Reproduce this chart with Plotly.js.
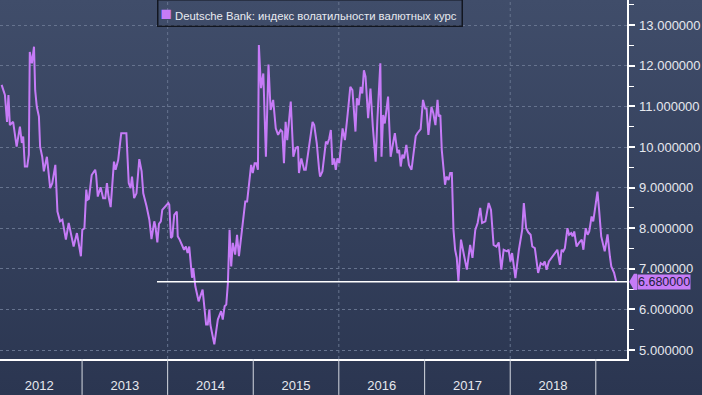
<!DOCTYPE html>
<html>
<head>
<meta charset="utf-8">
<script src="https://cdn.plot.ly/plotly-3.0.1.min.js"></script>
<style>
  html, body { margin: 0; padding: 0; }
  body { width: 702px; height: 395px; overflow: hidden;
         background: linear-gradient(to bottom, #404d6a 0%, #34405c 55%, #2b3651 100%); }
  #chart { width: 702px; height: 395px; }
</style>
</head>
<body>
<div id="chart"></div>
<script>
const seriesName = 'Deutsche Bank: индекс волатильности валютных курс';

const dates = [
 '2012-01-24','2012-02-07','2012-02-16','2012-02-22','2012-02-28','2012-03-13','2012-03-28','2012-04-11','2012-04-19','2012-04-25',
 '2012-05-02','2012-05-12','2012-05-19','2012-05-23','2012-06-01','2012-06-10','2012-06-15','2012-06-22','2012-07-01','2012-07-06',
 '2012-07-15','2012-07-22','2012-08-04','2012-08-18','2012-08-27','2012-09-09','2012-09-18','2012-09-29','2012-10-09','2012-10-24',
 '2012-11-05','2012-11-12','2012-11-26','2012-12-10','2012-12-27','2013-01-02','2013-01-11','2013-01-19','2013-01-24','2013-01-30',
 '2013-02-11','2013-02-26','2013-03-02','2013-03-09','2013-03-21','2013-04-01','2013-04-10','2013-04-17','2013-04-24','2013-05-03',
 '2013-05-17','2013-05-24','2013-06-04','2013-06-17','2013-07-09','2013-07-19','2013-07-27','2013-08-02','2013-08-11','2013-08-21',
 '2013-09-02','2013-09-12','2013-09-19','2013-10-03','2013-10-15','2013-10-24','2013-11-05','2013-11-10','2013-11-18','2013-11-25',
 '2013-12-03','2013-12-09','2013-12-23','2014-01-04','2014-01-08','2014-01-15','2014-01-21','2014-01-29','2014-02-09','2014-02-13',
 '2014-02-21','2014-03-12','2014-03-20','2014-03-27','2014-04-03','2014-04-15','2014-04-20','2014-04-29','2014-05-13','2014-05-30',
 '2014-06-14','2014-06-21','2014-06-28','2014-07-02','2014-07-19','2014-08-03','2014-08-17','2014-08-24','2014-09-01','2014-09-08',
 '2014-09-15','2014-09-22','2014-09-29','2014-10-06','2014-10-16','2014-10-24','2014-11-01','2014-11-11','2014-11-18','2014-11-28',
 '2014-12-06','2014-12-16','2014-12-23','2014-12-30','2015-01-07','2015-01-14','2015-01-21','2015-01-25','2015-02-03','2015-02-13',
 '2015-02-24','2015-03-07','2015-03-16','2015-03-27','2015-04-07','2015-04-17','2015-04-28','2015-05-05','2015-05-12','2015-05-19',
 '2015-05-26','2015-06-10','2015-06-21','2015-07-01','2015-07-11','2015-07-15','2015-07-25','2015-08-06','2015-08-13','2015-08-27',
 '2015-09-11','2015-09-18','2015-09-29','2015-10-09','2015-10-13','2015-10-23','2015-11-07','2015-11-14','2015-11-21','2015-11-28',
 '2015-12-05','2015-12-12','2015-12-19','2015-12-26','2016-01-03','2016-01-17','2016-01-27','2016-02-08','2016-02-19','2016-02-28',
 '2016-03-05','2016-03-12','2016-03-18','2016-03-26','2016-04-03','2016-04-10','2016-04-17','2016-04-24','2016-05-05','2016-05-15',
 '2016-05-25','2016-06-06','2016-06-13','2016-06-26','2016-07-01','2016-07-08','2016-07-15','2016-07-29','2016-08-09','2016-08-27',
 '2016-09-07','2016-09-14','2016-09-21','2016-09-28','2016-10-05','2016-10-15','2016-10-26','2016-11-06','2016-11-24','2016-12-01',
 '2016-12-15','2016-12-25','2017-01-03','2017-01-09','2017-01-17','2017-01-30','2017-02-07','2017-02-16','2017-02-25','2017-03-02',
 '2017-03-09','2017-03-15','2017-03-29','2017-04-04','2017-04-13','2017-04-20','2017-04-27','2017-05-04','2017-05-11','2017-05-18',
 '2017-05-25','2017-06-05','2017-06-16','2017-06-30','2017-07-14','2017-07-24','2017-08-05','2017-08-15','2017-08-26','2017-09-03',
 '2017-09-17','2017-10-01','2017-10-11','2017-10-22','2017-11-03','2017-11-13','2017-11-24','2017-12-04','2017-12-18','2017-12-25',
 '2018-01-02','2018-01-09','2018-01-23','2018-02-07','2018-02-21','2018-02-28','2018-03-10','2018-03-19','2018-03-29','2018-04-05',
 '2018-04-16','2018-04-30','2018-05-11','2018-05-21','2018-05-28','2018-06-05','2018-06-15','2018-06-26','2018-07-10','2018-07-21',
 '2018-08-01','2018-08-08','2018-08-15','2018-08-22','2018-09-02','2018-09-09','2018-09-18','2018-09-24','2018-10-01','2018-10-11',
 '2018-10-21','2018-11-02','2018-11-09','2018-11-19','2018-11-27','2018-12-04','2018-12-14','2018-12-21','2018-12-28','2019-01-08',
 '2019-01-15','2019-01-24','2019-02-08','2019-02-20','2019-03-02','2019-03-08','2019-03-20','2019-03-29'
];

const values = [
 11.53,11.28,10.62,11.28,10.54,10.62,10.01,10.50,10.10,10.26,
 9.52,9.52,9.81,12.34,12.06,12.47,11.40,10.99,10.75,10.01,
 9.76,9.40,9.76,8.99,9.11,9.56,8.41,8.17,8.21,7.72,
 8.13,7.96,7.55,7.88,7.31,7.96,8.00,8.95,8.70,8.72,
 9.31,9.44,9.31,8.78,9.01,8.74,8.74,9.11,8.78,8.52,
 9.64,9.44,9.68,10.34,10.34,9.11,8.99,9.27,8.74,8.86,
 9.70,9.40,8.86,8.54,8.21,7.73,8.17,8.04,7.65,8.11,
 8.17,8.45,8.55,8.62,8.58,7.76,7.80,8.33,8.41,7.80,
 7.72,7.47,7.55,7.39,7.55,6.78,7.02,6.57,6.20,6.49,
 5.63,5.63,6.00,5.63,5.14,5.75,5.96,5.75,6.08,6.12,
 6.65,7.96,7.06,7.64,7.35,7.84,7.31,7.80,8.29,8.66,
 8.66,9.31,9.56,9.36,9.60,9.60,9.44,12.51,11.45,11.81,
 9.76,12.03,10.91,11.16,10.46,10.30,10.42,10.38,9.60,10.62,
 10.17,11.12,9.76,9.97,10.01,9.36,9.72,9.44,9.44,10.01,
 10.62,10.54,10.09,9.44,9.27,9.40,10.13,10.09,10.21,10.42,
 9.56,9.72,9.44,9.72,9.60,10.46,10.17,10.83,11.48,11.40,
 10.99,10.38,11.20,11.03,11.48,11.32,11.89,11.73,10.71,11.44,
 10.50,9.64,10.62,12.06,9.76,10.79,10.58,11.24,9.76,10.34,
 9.85,9.93,9.52,9.81,9.72,10.05,9.56,9.44,10.27,10.34,
 10.44,11.16,10.95,10.95,10.30,10.99,10.83,10.54,11.16,10.75,
 10.79,9.93,9.07,9.27,9.19,9.36,9.36,7.96,7.47,7.27,
 6.69,7.72,7.39,6.98,7.59,7.27,7.96,8.13,8.50,8.13,
 8.17,8.62,8.45,7.59,7.55,7.65,6.98,7.47,7.43,7.47,
 7.18,7.39,6.77,7.47,7.96,8.62,8.00,7.90,7.84,7.55,
 7.51,6.90,7.14,7.10,7.18,6.98,7.18,7.27,7.39,7.47,
 7.10,7.47,7.43,7.51,8.00,7.84,7.88,7.80,7.92,7.55,
 7.64,7.72,7.47,8.00,7.84,7.92,8.29,8.17,8.45,8.90,
 8.45,7.80,7.43,7.85,7.31,7.06,6.90,6.68
];

const yearLabels = ['2012','2013','2014','2015','2016','2017','2018','2019'];
const gridYears = ['2014','2016','2018'];

const lineColor = '#c67bf7';
const lastValue = values[values.length - 1];

const shapes = [];
// year separators in the bottom band
yearLabels.slice(1).forEach(y => {
  shapes.push({type:'line', xref:'x', yref:'paper', x0:y+'-01-01', x1:y+'-01-01', y0:-0.1, y1:0,
               line:{color:'#d6dae2', width:1}, layer:'above'});
});
// vertical dotted gridlines
gridYears.forEach(y => {
  shapes.push({type:'line', xref:'x', yref:'paper', x0:y+'-01-01', x1:y+'-01-01', y0:0, y1:1,
               line:{color:'#66738e', width:1, dash:'3px,3px'}, layer:'below'});
});
// last value level line
shapes.push({type:'line', xref:'paper', yref:'y', x0:0.2504, x1:1, y0:lastValue, y1:lastValue,
             line:{color:'#ffffff', width:1.5}, layer:'above'});
// pointer of last value label
shapes.push({type:'path', xref:'paper', yref:'y',
             path:`M 1.0035 ${lastValue} L 1.011 ${lastValue+0.2} L 1.016 ${lastValue+0.2} L 1.016 ${lastValue-0.2} L 1.011 ${lastValue-0.2} Z`,
             fillcolor:lineColor, line:{width:0}, layer:'above'});

const trace = {
  x: dates, y: values, type:'scatter', mode:'lines', name: seriesName,
  line:{color:lineColor, width:2}, showlegend:false, hoverinfo:'skip'
};

const layout = {
  width:702, height:395,
  margin:{l:0, r:75, t:0, b:36, pad:0},
  paper_bgcolor:'rgba(0,0,0,0)', plot_bgcolor:'rgba(0,0,0,0)',
  font:{family:'Liberation Sans, Arial, sans-serif', color:'#e6e8ee', size:13},
  xaxis:{
    type:'date', range:['2012-01-17','2019-05-14'],
    tick0:'2012-01-01', dtick:'M12', ticklabelmode:'period', tickformat:'%Y',
    ticks:'', showgrid:false, zeroline:false,
    showline:true, linecolor:'#ffffff', linewidth:1.5,
    tickfont:{size:13, color:'#e6e8ee'}, ticklabelstandoff:14
  },
  yaxis:{
    side:'right', range:[4.78, 13.62], dtick:1, tick0:0, tickformat:'.6f',
    showgrid:true, gridcolor:'#66738e', griddash:'3px,3px', gridwidth:1,
    zeroline:false, showline:true, linecolor:'#ffffff', linewidth:1.5,
    ticks:'outside', ticklen:6, tickwidth:2, tickcolor:'#ffffff',
    minor:{dtick:0.5, ticks:'outside', ticklen:5, tickwidth:1, tickcolor:'#ffffff', showgrid:false},
    tickfont:{size:13, color:'#e6e8ee'}, ticklabelstandoff:2
  },
  shapes: shapes,
  annotations:[
    {xref:'paper', yref:'paper', x:0.2504, y:1, xanchor:'left', yanchor:'top', yshift:1,
     text:'<span style="color:'+lineColor+';font-size:19px">■</span> '+seriesName+' ',
     showarrow:false, align:'left', bordercolor:'#121620', borderwidth:1.5, borderpad:2,
     bgcolor:'rgba(0,0,0,0)', font:{size:11.3, color:'#e8eaf0'}},
    {xref:'paper', yref:'y', x:1.016, y:lastValue, xanchor:'left', yanchor:'middle',
     text:lastValue.toFixed(6), showarrow:false, bgcolor:lineColor, borderpad:0,
     font:{size:12.5, color:'#1c2040'}}
  ]
};

Plotly.newPlot('chart', [trace], layout, {staticPlot:true, displayModeBar:false});
</script>
</body>
</html>
